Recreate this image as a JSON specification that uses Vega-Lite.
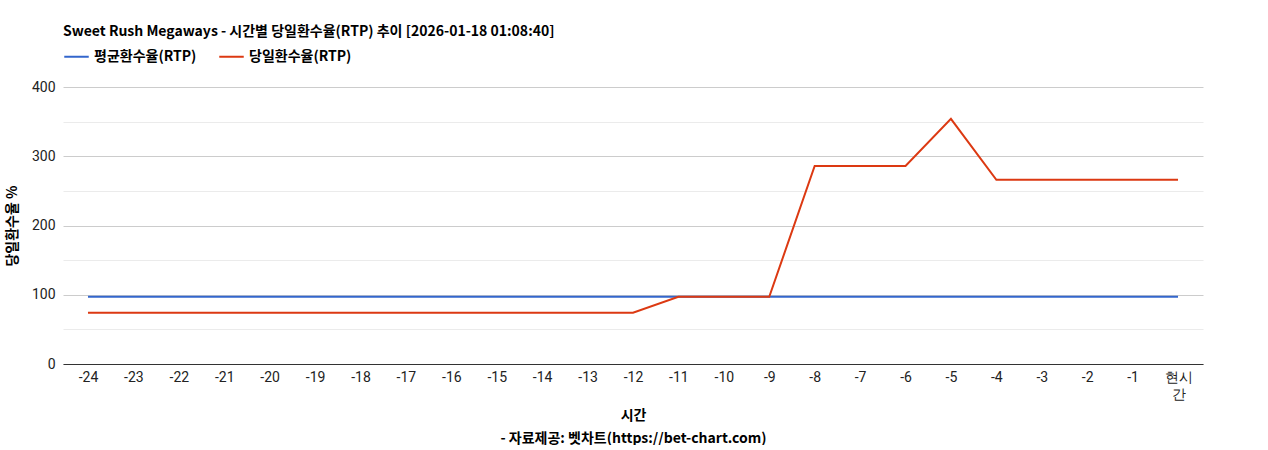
{
  "$schema": "https://vega.github.io/schema/vega-lite/v6.json",
  "width": 1140,
  "height": 277,
  "padding": {"left": 5, "top": 25, "right": 5, "bottom": 0},
  "background": "white",
  "title": {
    "text": "Sweet Rush Megaways - 시간별 당일환수율(RTP) 추이 [2026-01-18 01:08:40]",
    "anchor": "start",
    "frame": "group",
    "font": "Noto Sans CJK KR",
    "fontSize": 14,
    "fontWeight": "bold",
    "color": "#000",
    "offset": 4
  },
  "config": {
    "view": {"stroke": null},
    "font": "Noto Sans CJK KR"
  },
  "data": {
    "values": [
      {"hour": "-24", "series": "평균환수율(RTP)", "rtp": 97},
      {"hour": "-23", "series": "평균환수율(RTP)", "rtp": 97},
      {"hour": "-22", "series": "평균환수율(RTP)", "rtp": 97},
      {"hour": "-21", "series": "평균환수율(RTP)", "rtp": 97},
      {"hour": "-20", "series": "평균환수율(RTP)", "rtp": 97},
      {"hour": "-19", "series": "평균환수율(RTP)", "rtp": 97},
      {"hour": "-18", "series": "평균환수율(RTP)", "rtp": 97},
      {"hour": "-17", "series": "평균환수율(RTP)", "rtp": 97},
      {"hour": "-16", "series": "평균환수율(RTP)", "rtp": 97},
      {"hour": "-15", "series": "평균환수율(RTP)", "rtp": 97},
      {"hour": "-14", "series": "평균환수율(RTP)", "rtp": 97},
      {"hour": "-13", "series": "평균환수율(RTP)", "rtp": 97},
      {"hour": "-12", "series": "평균환수율(RTP)", "rtp": 97},
      {"hour": "-11", "series": "평균환수율(RTP)", "rtp": 97},
      {"hour": "-10", "series": "평균환수율(RTP)", "rtp": 97},
      {"hour": "-9", "series": "평균환수율(RTP)", "rtp": 97},
      {"hour": "-8", "series": "평균환수율(RTP)", "rtp": 97},
      {"hour": "-7", "series": "평균환수율(RTP)", "rtp": 97},
      {"hour": "-6", "series": "평균환수율(RTP)", "rtp": 97},
      {"hour": "-5", "series": "평균환수율(RTP)", "rtp": 97},
      {"hour": "-4", "series": "평균환수율(RTP)", "rtp": 97},
      {"hour": "-3", "series": "평균환수율(RTP)", "rtp": 97},
      {"hour": "-2", "series": "평균환수율(RTP)", "rtp": 97},
      {"hour": "-1", "series": "평균환수율(RTP)", "rtp": 97},
      {"hour": "현시간", "series": "평균환수율(RTP)", "rtp": 97},
      {"hour": "-24", "series": "당일환수율(RTP)", "rtp": 74},
      {"hour": "-23", "series": "당일환수율(RTP)", "rtp": 74},
      {"hour": "-22", "series": "당일환수율(RTP)", "rtp": 74},
      {"hour": "-21", "series": "당일환수율(RTP)", "rtp": 74},
      {"hour": "-20", "series": "당일환수율(RTP)", "rtp": 74},
      {"hour": "-19", "series": "당일환수율(RTP)", "rtp": 74},
      {"hour": "-18", "series": "당일환수율(RTP)", "rtp": 74},
      {"hour": "-17", "series": "당일환수율(RTP)", "rtp": 74},
      {"hour": "-16", "series": "당일환수율(RTP)", "rtp": 74},
      {"hour": "-15", "series": "당일환수율(RTP)", "rtp": 74},
      {"hour": "-14", "series": "당일환수율(RTP)", "rtp": 74},
      {"hour": "-13", "series": "당일환수율(RTP)", "rtp": 74},
      {"hour": "-12", "series": "당일환수율(RTP)", "rtp": 74},
      {"hour": "-11", "series": "당일환수율(RTP)", "rtp": 97},
      {"hour": "-10", "series": "당일환수율(RTP)", "rtp": 97},
      {"hour": "-9", "series": "당일환수율(RTP)", "rtp": 97},
      {"hour": "-8", "series": "당일환수율(RTP)", "rtp": 286},
      {"hour": "-7", "series": "당일환수율(RTP)", "rtp": 286},
      {"hour": "-6", "series": "당일환수율(RTP)", "rtp": 286},
      {"hour": "-5", "series": "당일환수율(RTP)", "rtp": 354},
      {"hour": "-4", "series": "당일환수율(RTP)", "rtp": 266},
      {"hour": "-3", "series": "당일환수율(RTP)", "rtp": 266},
      {"hour": "-2", "series": "당일환수율(RTP)", "rtp": 266},
      {"hour": "-1", "series": "당일환수율(RTP)", "rtp": 266},
      {"hour": "현시간", "series": "당일환수율(RTP)", "rtp": 266}
    ]
  },
  "mark": {"type": "line", "strokeWidth": 2},
  "encoding": {
    "x": {
      "field": "hour",
      "type": "ordinal",
      "sort": null,
      "scale": {"type": "point", "padding": 0.55},
      "axis": {
        "title": ["시간", "- 자료제공: 벳차트(https://bet-chart.com)"],
        "titleFontSize": 14,
        "titleFontWeight": "bold",
        "titleColor": "#000",
        "titlePadding": 7,
        "titleLineHeight": 23,
        "labelAngle": 0,
        "labelFontSize": 14,
        "labelColor": "#222",
        "labelFont": "Roboto",
        "labelPadding": 6,
        "labelLineHeight": 17,
        "labelExpr": "datum.value == '현시간' ? ['현시', '간'] : datum.label",
        "domainColor": "#333",
        "ticks": false,
        "grid": false
      }
    },
    "y": {
      "field": "rtp",
      "type": "quantitative",
      "scale": {"domain": [0, 400], "nice": false},
      "axis": {
        "title": "당일환수율 %",
        "titleFontSize": 14,
        "titleFontWeight": "bold",
        "titleColor": "#000",
        "titlePadding": 12,
        "values": [0, 50, 100, 150, 200, 250, 300, 350, 400],
        "labelExpr": "datum.value % 100 === 0 ? datum.label : ''",
        "labelFontSize": 14,
        "labelColor": "#222",
        "labelFont": "Roboto",
        "labelPadding": 8,
        "ticks": false,
        "domain": false,
        "gridColor": {"condition": {"test": "datum.value % 100 === 0", "value": "#cccccc"}, "value": "#ebebeb"}
      }
    },
    "color": {
      "field": "series",
      "type": "nominal",
      "sort": null,
      "scale": {"domain": ["평균환수율(RTP)", "당일환수율(RTP)"], "range": ["#3366cc", "#dc3912"]},
      "legend": {
        "title": null,
        "orient": "none",
        "direction": "horizontal",
        "legendX": 0,
        "legendY": -44,
        "symbolType": "stroke",
        "symbolSize": 600,
        "symbolStrokeWidth": 2,
        "labelFontSize": 14,
        "labelFontWeight": "bold",
        "labelColor": "#000",
        "columnPadding": 18,
        "labelLimit": 300
      }
    }
  }
}
